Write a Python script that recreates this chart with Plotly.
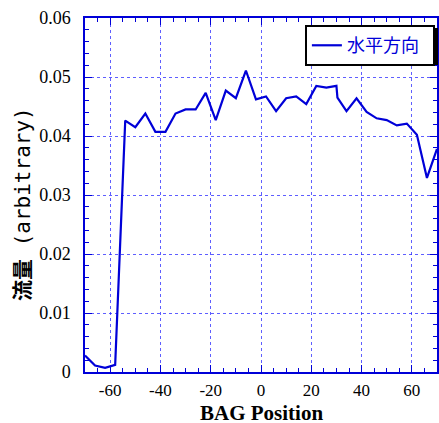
import plotly.graph_objects as go

positions = [-70, -66, -62, -58, -54, -50, -46, -42, -38, -34, -30, -26, -22, -18,
             -14, -10, -6, -2, 2, 6, 10, 14, 18, 22, 26, 30, 30.4, 34, 38, 42, 46,
             50, 54, 58, 62, 66, 70]
flux = [0.0028, 0.0011, 0.0007, 0.0012, 0.0426, 0.0415, 0.0438, 0.0407, 0.0407,
        0.0438, 0.0445, 0.0445, 0.0473, 0.0427, 0.0477, 0.0464, 0.0511, 0.0462,
        0.0467, 0.0442, 0.0464, 0.0467, 0.0454, 0.0485, 0.0482, 0.0485, 0.0465,
        0.0442, 0.0464, 0.0441, 0.0430, 0.0427, 0.0418, 0.0421, 0.0402, 0.0329,
        0.0378]
series_name = "水平方向"
x_title = "<b>BAG Position</b>"
y_title = "<b>流量</b> (arbitrary)"

x_tickvals = [-60, -40, -20, 0, 20, 40, 60]
x_ticktext = ["-60", "-40", "-20", "0", "20", "40", "60"]
y_tickvals = [0, 0.01, 0.02, 0.03, 0.04, 0.05, 0.06]
y_ticktext = ["0", "0.01", "0.02", "0.03", "0.04", "0.05", "0.06"]

BLUE = "#0000d8"
GRID = "rgba(40,40,255,0.75)"
SERIF = "Liberation Serif, Times New Roman, serif"

fig = go.Figure()
fig.add_trace(go.Scatter(x=positions, y=flux, mode="lines", name=series_name,
                         line=dict(color=BLUE, width=2.2), showlegend=True))

axis_common = dict(
    showline=True, linecolor=BLUE, linewidth=1.5, mirror="ticks",
    ticks="inside", ticklen=7, tickwidth=1.2, tickcolor=BLUE,
    showgrid=True, gridcolor=GRID, griddash="dot", gridwidth=1,
    zeroline=False,
)

fig.update_xaxes(
    **axis_common,
    tickfont=dict(family=SERIF, size=17, color="black"),
    range=[-70, 70], tickvals=x_tickvals, ticktext=x_ticktext,
    minor=dict(dtick=5, ticks="inside", ticklen=4, tickcolor=BLUE, showgrid=False),
    ticklabelstandoff=2,
)
fig.update_yaxes(
    **axis_common,
    tickfont=dict(family=SERIF, size=18, color="black"),
    range=[0, 0.06], tickvals=y_tickvals, ticktext=y_ticktext,
    minor=dict(dtick=0.002, ticks="inside", ticklen=4, tickcolor=BLUE, showgrid=False),
    ticklabelstandoff=9,
)

fig.add_annotation(text=x_title, xref="paper", yref="paper", x=0.5, y=0,
                   xanchor="center", yanchor="top", yshift=-27, showarrow=False,
                   font=dict(family=SERIF, size=21, color="black"))
fig.add_annotation(text=y_title, xref="paper", yref="paper", x=0, y=0.5,
                   xanchor="center", yanchor="middle", xshift=-62, yshift=-9,
                   textangle=-90, showarrow=False,
                   font=dict(family="DejaVu Sans Mono, Noto Sans CJK JP", size=21, color="black"))

fig.update_layout(
    width=439, height=423,
    margin=dict(l=85, r=0, t=18, b=51),
    paper_bgcolor="white", plot_bgcolor="white",
    legend=dict(x=0.994, y=0.980, xanchor="right", yanchor="top",
                orientation="h", entrywidth=81,
                bgcolor="white", bordercolor="black", borderwidth=2,
                font=dict(family="Noto Sans CJK JP", size=18, color=BLUE),
                itemwidth=30),
    shapes=[dict(type="rect", xref="paper", yref="paper",
                 x0=(310 - 85) / 354, x1=(440 - 85) / 354,
                 y0=1 - (65 - 18) / 354, y1=1 - (28 - 18) / 354,
                 fillcolor="black", line=dict(width=0), layer="above")],
)

fig.write_html("out.html", config={"displayModeBar": False},
               post_script="document.body.style.margin='0';document.body.style.overflow='hidden';")
